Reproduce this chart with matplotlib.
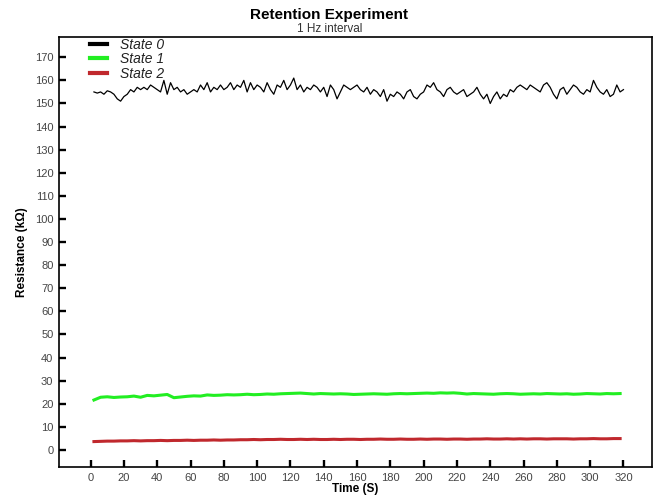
import numpy as np
import matplotlib.pyplot as plt

plt.rcParams["font.family"] = ["Liberation Sans", "DejaVu Sans"]

# ---------------------------------------------------------------------------
# Data
# ---------------------------------------------------------------------------
t_state0 = np.arange(2, 321, 2)
state0 = [
    155, 154.5, 155, 154, 155.5, 155, 154, 152, 151, 153,
    154, 156, 155, 157, 156, 157, 156, 158, 157, 156,
    155, 160, 154, 159, 156, 157, 155, 156, 154, 155,
    156, 155, 158, 156, 159, 155, 157, 156, 158, 156,
    157, 159, 156, 158, 157, 160, 155, 159, 156, 158,
    157, 155, 159, 156, 154, 158, 157, 160, 156, 158,
    161, 156, 158, 155, 157, 156, 158, 157, 155, 157,
    153, 158, 156, 152, 155, 158, 157, 156, 157, 158,
    156, 155, 157, 154, 156, 155, 153, 156, 151, 154,
    153, 155, 154, 152, 155, 156, 153, 152, 154, 155,
    158, 157, 159, 156, 155, 153, 156, 157, 155, 154,
    155, 156, 153, 154, 155, 157, 154, 152, 154, 150,
    153, 155, 152, 154, 153, 156, 155, 157, 158, 157,
    156, 158, 157, 156, 155, 158, 159, 157, 154, 152,
    156, 157, 154, 156, 158, 157, 155, 154, 156, 155,
    160, 157, 155, 154, 156, 153, 154, 158, 155, 156,
]

t_state12 = np.arange(2, 320, 4)
state1 = [
    21.6, 22.8, 23.0, 22.7, 22.9, 23.0, 23.3, 22.8, 23.6, 23.4,
    23.7, 24.0, 22.6, 22.9, 23.2, 23.4, 23.3, 23.8, 23.6, 23.7,
    23.9, 23.8, 23.9, 24.1, 23.9, 24.0, 24.2, 24.1, 24.3, 24.4,
    24.5, 24.6, 24.4, 24.2, 24.4, 24.3, 24.2, 24.3, 24.2, 24.0,
    24.1, 24.2, 24.3, 24.2, 24.1, 24.3, 24.4, 24.3, 24.4, 24.5,
    24.6, 24.5, 24.7, 24.6, 24.7, 24.5, 24.2, 24.4, 24.3, 24.2,
    24.1, 24.3, 24.4, 24.3, 24.1, 24.2, 24.3, 24.2, 24.4, 24.3,
    24.2, 24.3, 24.1, 24.2, 24.4, 24.3, 24.2, 24.4, 24.3, 24.4,
]
state2 = [
    3.6, 3.7, 3.8, 3.8, 3.9, 3.9, 4.0, 3.9, 4.0, 4.0,
    4.1, 4.0, 4.1, 4.1, 4.2, 4.1, 4.2, 4.2, 4.3, 4.2,
    4.3, 4.3, 4.4, 4.4, 4.5, 4.4, 4.5, 4.5, 4.6, 4.5,
    4.5, 4.6, 4.5, 4.6, 4.5, 4.5, 4.6, 4.5, 4.6, 4.6,
    4.5, 4.6, 4.6, 4.7, 4.6, 4.6, 4.7, 4.6, 4.6, 4.7,
    4.6, 4.7, 4.7, 4.6, 4.7, 4.7, 4.6, 4.7, 4.7, 4.8,
    4.7, 4.7, 4.8, 4.7, 4.8, 4.7, 4.8, 4.8, 4.7, 4.8,
    4.8, 4.8, 4.7, 4.8, 4.8, 4.9, 4.8, 4.8, 4.9, 4.9,
]

labels = ["State 0", "State 1", "State 2"]
x_ticks = np.arange(0, 321, 20)
y_ticks = np.arange(0, 171, 10)

# ---------------------------------------------------------------------------
# Plot
# ---------------------------------------------------------------------------
fig = plt.figure(figsize=(6.59, 4.96), dpi=100)
ax = fig.add_axes([0.0895, 0.0585, 0.8995, 0.8665])

ax.plot(t_state0, state0, color="black", lw=0.9, label=labels[0])
ax.plot(t_state12, state1, color="#22ee22", lw=2.2, label=labels[1])
ax.plot(t_state12, state2, color="#c0282d", lw=2.2, label=labels[2])

ax.set_xlim(-19, 337)
ax.set_ylim(-7.4, 178.7)
ax.set_xticks(x_ticks)
ax.set_yticks(y_ticks)
ax.tick_params(direction="in", length=5, width=1.7, labelsize=8,
               labelcolor="#444444", pad=4)
for s in ax.spines.values():
    s.set_linewidth(1.2)

ax.set_xlabel("Time (S)", fontsize=8.5, fontweight="bold", labelpad=0)
ax.set_ylabel("Resistance (k\u03a9)", fontsize=8.5, fontweight="bold", labelpad=5)

fig.text(0.5, 0.969, "Retention Experiment", ha="center", va="center",
         fontsize=11, fontweight="bold")
fig.text(0.5, 0.941, "1 Hz interval", ha="center", va="center", fontsize=8.5,
         color="#333333")

leg = ax.legend(loc="upper left", bbox_to_anchor=(0.032, 1.028), frameon=False,
                fontsize=10, handlelength=1.2, handletextpad=0.9,
                labelspacing=0.05)
for txt in leg.get_texts():
    txt.set_fontstyle("italic")
    txt.set_color("#222222")
for h in leg.get_lines():
    h.set_linewidth(3)

fig.savefig("out.png", dpi=100)
